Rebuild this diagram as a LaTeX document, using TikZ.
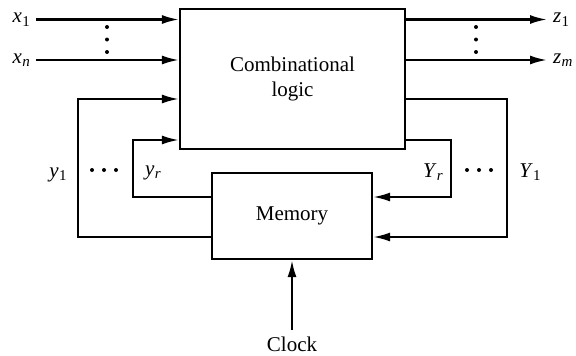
\documentclass[tikz,border=0pt]{standalone}
\usepackage{fontspec}
\setmainfont{Liberation Serif}
\usetikzlibrary{arrows.meta}
\newcommand\vsub[2]{\textit{#1}\kern0.3pt\raisebox{-0.35ex}{\fontsize{15}{15}\selectfont #2}}
\begin{document}
\begin{tikzpicture}[x=1pt,y=-1pt,
  wire/.style={line width=2.2pt},
  arr/.style={wire,-{Latex[length=17pt,width=9pt]}},
  blk/.style={draw,line width=2.2pt,rectangle,inner sep=0pt,align=center},
  lbl/.style={inner sep=1pt,font=\fontsize{21}{23}\selectfont},
  dot/.style={circle,fill,inner sep=0pt,minimum size=4pt}]
\useasboundingbox (0,0) rectangle (576,356);
\node[blk,minimum width=225pt,minimum height=140pt,font=\fontsize{21}{25}\selectfont] (comb) at (292.5,79) {Combinational\\logic};
\node[blk,minimum width=160pt,minimum height=86pt,font=\fontsize{21}{23}\selectfont] (mem) at (292,216) {Memory};
% inputs
\coordinate (x1s) at (36,19.5);
\coordinate (xns) at (36,60);
\node[lbl,anchor=east] (x1l) at (31,19.5) {\vsub{x}{1}};
\node[lbl,anchor=east] (xnl) at (31,60) {\vsub{x}{\textit{n}}};
\draw[arr] (x1s) -- (comb.west |- x1s);
\draw[arr] (xns) -- (comb.west |- xns);
\node[dot] (di1) at (107,27) {};
\node[dot] (di2) at (107,39.5) {};
\node[dot] (di3) at (107,52) {};
% outputs
\coordinate (z1e) at (547,19.5);
\coordinate (zme) at (547,60);
\draw[arr] (comb.east |- z1e) -- (z1e);
\draw[arr] (comb.east |- zme) -- (zme);
\node[lbl,anchor=west] (z1l) at (552,19.5) {\vsub{z}{1}};
\node[lbl,anchor=west] (zml) at (552,60) {\vsub{z}{\textit{m}}};
\node[dot] (do1) at (476,27) {};
\node[dot] (do2) at (476,39.5) {};
\node[dot] (do3) at (476,52) {};
% feedback left
\coordinate (y1a) at (78,237);
\coordinate (y1b) at (78,99);
\draw[arr] (mem.west |- y1a) -- (y1a) -- (y1b) -- (comb.west |- y1b);
\coordinate (yra) at (133,197);
\coordinate (yrb) at (133,140);
\draw[arr] (mem.west |- yra) -- (yra) -- (yrb) -- (comb.west |- yrb);
\node[lbl] (y1l) at (58,175) {\vsub{y}{1}};
\node[lbl] (yrl) at (153,173) {\vsub{y}{\textit{r}}};
\node[dot] (dl1) at (92,170) {};
\node[dot] (dl2) at (104,170) {};
\node[dot] (dl3) at (116,170) {};
% feedback right
\coordinate (Y1a) at (507,99);
\coordinate (Y1b) at (507,237);
\draw[arr] (comb.east |- Y1a) -- (Y1a) -- (Y1b) -- (mem.east |- Y1b);
\coordinate (Yra) at (451,140);
\coordinate (Yrb) at (451,197);
\draw[arr] (comb.east |- Yra) -- (Yra) -- (Yrb) -- (mem.east |- Yrb);
\node[lbl] (Yrl) at (433,172) {\vsub{Y}{\textit{r}}};
\node[lbl] (Y1l) at (530,172) {\vsub{Y}{1}};
\node[dot] (dr1) at (467,170) {};
\node[dot] (dr2) at (479,170) {};
\node[dot] (dr3) at (491,170) {};
% clock
\node[lbl] (clk) at (292,344) {Clock};
\coordinate (ck) at (292,330);
\draw[arr] (ck) -- (mem.south -| ck);
\end{tikzpicture}
\end{document}
